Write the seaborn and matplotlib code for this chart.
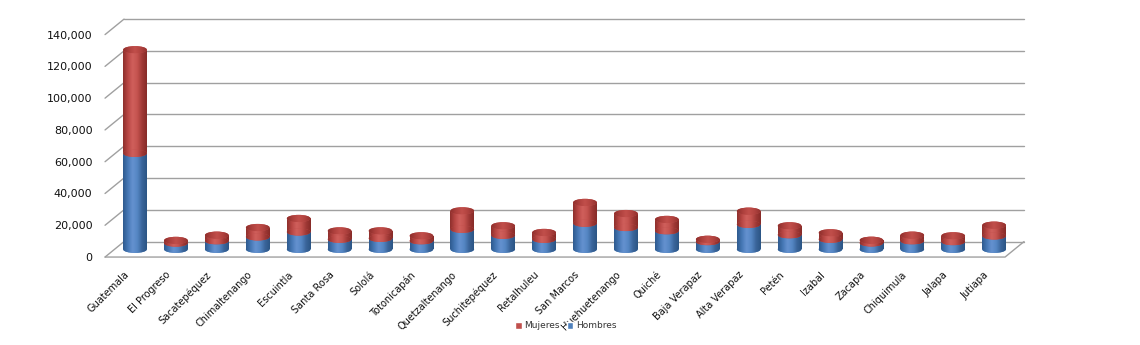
import numpy as np
import pandas as pd
import matplotlib
matplotlib.use("Agg")
import matplotlib.pyplot as plt
import seaborn as sns
from matplotlib.patches import Ellipse, Patch
from matplotlib.colors import LinearSegmentedColormap

# Departamentos y valores por sexo
departamentos = ["Guatemala", "El Progreso", "Sacatepéquez", "Chimaltenango",
                 "Escuintla", "Santa Rosa", "Sololá", "Totonicapán",
                 "Quetzaltenango", "Suchitepéquez", "Retalhuleu", "San Marcos",
                 "Huehuetenango", "Quiché", "Baja Verapaz", "Alta Verapaz",
                 "Petén", "Izabal", "Zacapa", "Chiquimula", "Jalapa", "Jutiapa"]
hombres = [60400, 3900, 5300, 7800, 10900, 6300, 6900, 5300, 12600, 8800, 6300,
           16400, 13700, 11600, 4800, 15700, 9100, 6300, 4000, 5300, 4800, 8400]
mujeres = [65200, 1700, 3600, 5900, 8500, 5300, 4700, 3200, 11600, 6000, 4300,
           13100, 8800, 7200, 1500, 8300, 5700, 4100, 1700, 3600, 3700, 6800]
y_ticks = list(range(0, 140001, 20000))
series_names = ["Mujeres", "Hombres"]

RED = "#C0504D"
BLUE = "#4F81BD"

# pseudo-3D geometry (pixels of the 1140x345 canvas)
W_PX, H_PX = 1140, 345
PX_CAT = 40.91          # width of one category
PX_VAL = 0.001589       # pixels per unit of value
X0_PX, Y0_PX = 135.0, 249.3   # centre of first bar / zero level at mid-depth
DX = 9.5 / PX_CAT       # half depth of the box, in category units
DY = 7.75 / PX_VAL      # half depth of the box, in value units
BAR_W = 0.58
CAP_H = 7.2 / PX_VAL

sns.set_theme(style="white")
plt.rcParams["font.family"] = ["DejaVu Sans"]

fig = plt.figure(figsize=(W_PX / 100, H_PX / 100), dpi=100)
ax = fig.add_axes([0, 0, 1, 1])

df = pd.DataFrame({"departamento": departamentos,
                   "hombres": hombres,
                   "mujeres": mujeres})
df["total"] = df["hombres"] + df["mujeres"]

sns.barplot(data=df, x="departamento", y="total", color=RED, width=BAR_W,
            saturation=1, errorbar=None, ax=ax, zorder=2, linewidth=0)
red_bars = list(ax.patches)
sns.barplot(data=df, x="departamento", y="hombres", color=BLUE, width=BAR_W,
            saturation=1, errorbar=None, ax=ax, zorder=3, linewidth=0)
blue_bars = list(ax.patches[len(red_bars):])

cm_red = LinearSegmentedColormap.from_list(
    "r", ["#8E2F2C", "#B94744", "#D0605C", "#C4534F", "#A03936", "#862B28"])
cm_blue = LinearSegmentedColormap.from_list(
    "b", ["#2E5A8E", "#4678B6", "#6592D0", "#5586C4", "#3A659A", "#2B5585"])
cm_cap = LinearSegmentedColormap.from_list(
    "c", ["#8E2F2C", "#AE403D", "#C24F4B", "#B0423F", "#92312E"])
grad = np.linspace(0, 1, 64).reshape(1, -1)


def shade(patch, x0, x1, y0, y1, cmap, z):
    im = ax.imshow(grad, cmap=cmap, extent=(x0, x1, y0, y1), aspect="auto",
                   interpolation="bicubic", zorder=z)
    im.set_clip_path(patch)


for bar in red_bars:
    x0, w, h = bar.get_x(), bar.get_width(), bar.get_height()
    shade(bar, x0, x0 + w, 0, h, cm_red, 2.1)
    xc = x0 + w / 2
    cap = Ellipse((xc, h), w, CAP_H, facecolor=RED, lw=0, zorder=4)
    ax.add_patch(cap)
    shade(cap, x0, x0 + w, h - CAP_H / 2, h + CAP_H / 2, cm_cap, 4.1)

for bar in blue_bars:
    x0, w, h = bar.get_x(), bar.get_width(), bar.get_height()
    shade(bar, x0, x0 + w, 0, h, cm_blue, 3.1)
    xc = x0 + w / 2
    # lower rim of the cylinder
    base = Ellipse((xc, 0), w, CAP_H, facecolor=BLUE, lw=0, zorder=1.5)
    ax.add_patch(base)
    shade(base, x0, x0 + w, -CAP_H / 2, CAP_H / 2, cm_blue, 1.6)
    # front arc where the two segments meet
    seam = Ellipse((xc, h), w, CAP_H, facecolor=RED, lw=0, zorder=3.5)
    ax.add_patch(seam)
    shade(seam, x0, x0 + w, h - CAP_H / 2, h + CAP_H / 2, cm_red, 3.6)

# back wall gridlines, left wall connectors and floor
GRID = "#A0A0A0"
n = len(departamentos)
for v in y_ticks:
    ax.plot([-0.5 + DX, n - 0.5 + DX], [v + DY, v + DY], color=GRID, lw=1.0, zorder=0.5)
    ax.plot([-0.5 - DX, -0.5 + DX], [v - DY, v + DY], color=GRID, lw=1.0, zorder=0.5)
ax.plot([-0.5 - DX, n - 0.5 - DX, n - 0.5 + DX], [-DY, -DY, DY],
        color=GRID, lw=1.0, zorder=0.5)

# value axis on the front-left edge
ax.spines["left"].set_position(("data", -0.5 - DX))
ax.set_yticks([v - DY for v in y_ticks])
ax.set_yticklabels([f"{v:,}" for v in y_ticks])
ax.tick_params(axis="y", length=0, pad=9, labelsize=8, labelcolor="#111111")

# category labels below the floor
ax.spines["bottom"].set_position(("data", -DY))
ax.set_xticks(np.arange(n) - DX - 0.03)
ax.set_xticklabels(departamentos)
ax.tick_params(axis="x", length=0, pad=9, labelsize=7, labelcolor="#111111")
for lbl in ax.get_xticklabels():
    lbl.set_rotation(45)
    lbl.set_ha("right")
    lbl.set_rotation_mode("anchor")

for s in ax.spines.values():
    s.set_visible(False)
ax.set_xlabel("")
ax.set_ylabel("")
ax.grid(False)

ax.set_xlim(-X0_PX / PX_CAT, (W_PX - X0_PX) / PX_CAT)
ax.set_ylim(-(H_PX - Y0_PX) / PX_VAL, Y0_PX / PX_VAL)

if ax.get_legend() is not None:
    ax.get_legend().remove()
handles = [Patch(facecolor=RED, label=series_names[0]),
           Patch(facecolor=BLUE, label=series_names[1])]
fig.legend(handles=handles, loc="center", bbox_to_anchor=(566 / W_PX, 1 - 326 / H_PX),
           ncol=2, frameon=False, fontsize=6.5, handlelength=0.7, handleheight=0.7,
           columnspacing=0.8, handletextpad=0.3, labelcolor="#333333")

fig.savefig("out.png", dpi=100, facecolor="white")
